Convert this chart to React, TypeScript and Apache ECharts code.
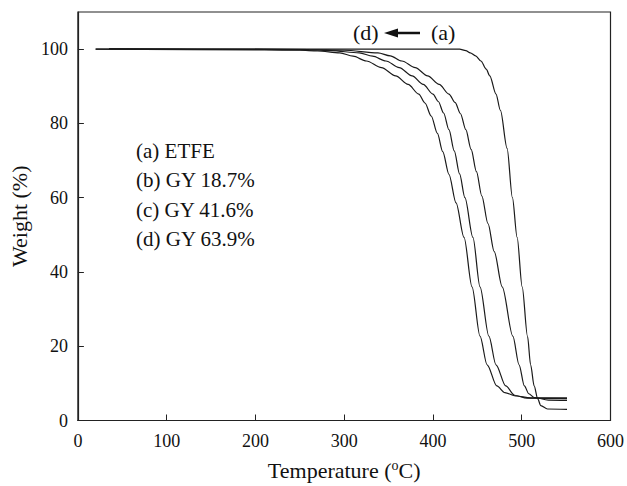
import React, { useEffect, useRef } from "react";
import * as echarts from "echarts";

// TGA curves: [temperature (°C), weight (%)]
const curveA: [number, number][] = [
  [20, 100], [160, 100], [300, 100], [430, 100], [437, 99.6], [442, 99], [448, 98.2], [454, 96.8],
  [460, 94.6], [464, 92.8], [471, 87.9], [476, 83.5], [483.5, 73.3], [489.5, 60],
  [494.8, 49.3], [500.5, 36], [506.5, 22.7], [510, 15], [514, 9.3], [518, 5.8],
  [521.5, 4], [529, 3.1], [551, 3.0],
];
const curveB: [number, number][] = [
  [35, 100.1], [210, 100], [260, 99.9], [300, 99.7], [338, 99], [352, 98.2], [365, 96.8],
  [380, 95], [394, 92.8], [407, 90.5], [418, 87.9], [425, 85.6], [431, 82.6], [437, 78.3],
  [443, 73], [449, 67], [455, 60.5], [462, 53], [469, 45.5], [478, 36], [490, 22.7],
  [497, 15], [503, 9.3], [508, 7.2], [514, 6.2], [530, 5.5], [551, 5.4],
];
const curveC: [number, number][] = [
  [35, 100.1], [210, 99.9], [260, 99.8], [285, 99.6], [317, 99], [332, 98.1], [347, 96.8],
  [362, 95], [376.5, 92.8], [389, 90.5], [400, 87.9], [406, 85.9], [412, 82.8], [418, 78.3],
  [424, 72.6], [430, 66.4], [436, 60], [445, 49.3], [453, 36], [463, 22.7], [471, 15],
  [482, 9.3], [492, 6.8], [506, 6.0], [551, 5.9],
];
const curveD: [number, number][] = [
  [20, 100], [210, 99.8], [250, 99.7], [270, 99.5], [295, 99], [310, 98.1], [325, 96.8],
  [342, 95], [358, 92.8], [372, 90.5], [384, 87.9], [391, 85.5], [398, 82], [405, 77.3],
  [411, 72.4], [418, 66.3], [426, 58.6], [435, 49.3], [444, 36], [453, 22.7], [461, 15],
  [472, 9.3], [481, 7.5], [493, 6.6], [510, 6.1], [551, 6.1],
];

const seriesNames = ["(a) ETFE", "(b) GY 18.7%", "(c) GY 41.6%", "(d) GY 63.9%"];
const seriesData = [curveA, curveB, curveC, curveD];

const xTicks = { min: 0, max: 600, interval: 100 };
const yTicks = { min: 0, max: 110, interval: 20 };

const FONT = "'Liberation Serif', 'Times New Roman', serif";

export default function App() {
  const ref = useRef<HTMLDivElement>(null);
  useEffect(() => {
    if (!ref.current) return;
    const chart = echarts.init(ref.current, undefined, { renderer: "svg" });
    const legendTexts = seriesNames.map((n, i) => ({
      type: "text",
      left: 136,
      top: 140 + i * 29.5,
      style: { text: n, font: `21px ${FONT}`, fill: "#111" },
    }));
    chart.setOption({
      animation: false,
      backgroundColor: "#fff",
      grid: {
        left: 75,
        right: 13,
        top: 12,
        bottom: 61,
        show: true,
        borderColor: "#222",
        borderWidth: 1.2,
      },
      xAxis: {
        type: "value",
        min: xTicks.min,
        max: xTicks.max,
        interval: xTicks.interval,
        name: "Temperature ({sup|o}C)",
        nameLocation: "middle",
        nameGap: 38,
        nameTextStyle: {
          fontFamily: FONT,
          fontSize: 22,
          color: "#111",
          rich: { sup: { fontFamily: FONT, fontSize: 14, color: "#111", verticalAlign: "top", padding: [0, 0, 9, 0] } },
        },
        axisLine: { lineStyle: { color: "#222", width: 1.2 } },
        axisTick: { inside: true, length: 6, lineStyle: { color: "#222" } },
        axisLabel: { fontFamily: FONT, fontSize: 18, color: "#111", margin: 11 },
        splitLine: { show: false },
      },
      yAxis: {
        type: "value",
        min: yTicks.min,
        max: yTicks.max,
        interval: yTicks.interval,
        name: "Weight (%)",
        nameLocation: "middle",
        nameGap: 41,
        nameTextStyle: { fontFamily: FONT, fontSize: 22, color: "#111" },
        axisLine: { lineStyle: { color: "#222", width: 1.2 } },
        axisTick: { inside: true, length: 6, lineStyle: { color: "#222" } },
        axisLabel: { fontFamily: FONT, fontSize: 18, color: "#111", margin: 10, showMaxLabel: false },
        splitLine: { show: false },
      },
      series: seriesData.map((d, i) => ({
        type: "line",
        name: seriesNames[i],
        data: d,
        showSymbol: false,
        smooth: 0.3,
        smoothMonotone: "x",
        lineStyle: { color: "#1a1a1a", width: 1.2 },
      })),
      graphic: [
        ...legendTexts,
        { type: "text", left: 353, top: 21, style: { text: "(d)", font: `22px ${FONT}`, fill: "#111" } },
        { type: "text", left: 431, top: 21, style: { text: "(a)", font: `22px ${FONT}`, fill: "#111" } },
        { type: "line", shape: { x1: 394, y1: 33, x2: 420, y2: 33 }, style: { stroke: "#111", lineWidth: 2.5 } },
        { type: "polygon", shape: { points: [[384, 33], [398, 28.5], [398, 37.5]] }, style: { fill: "#111" } },
      ],
    });
    return () => chart.dispose();
  }, []);
  return <div ref={ref} style={{ position: "fixed", left: 0, top: 0, width: 627, height: 486 }} />;
}
